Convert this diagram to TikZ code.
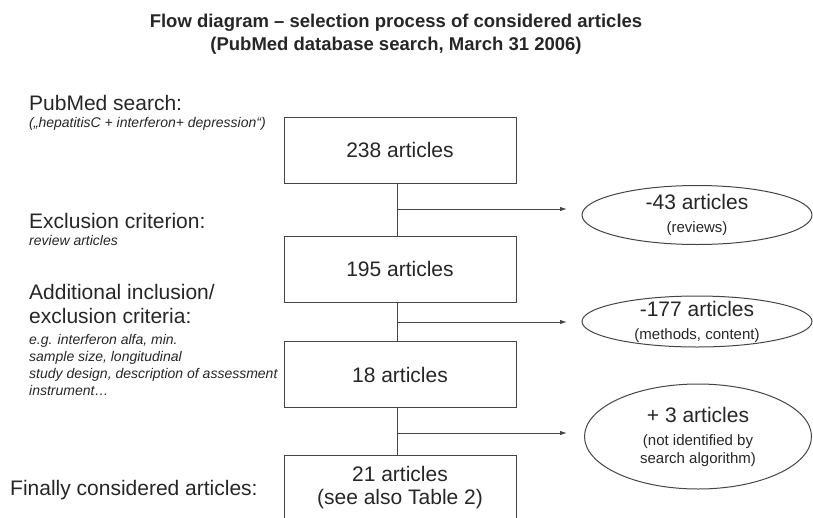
\documentclass[tikz,border=0pt]{standalone}
\usepackage{fontspec}
\setmainfont{Liberation Sans}
\usetikzlibrary{shapes.geometric,arrows.meta}
\definecolor{ink}{HTML}{262626}
\definecolor{rule}{HTML}{454545}
\tikzset{
  heading/.style={font=\fontsize{18.5}{23}\selectfont\bfseries,align=center},
  big/.style={font=\fontsize{21}{24}\selectfont},
  note/.style={font=\fontsize{14}{17}\selectfont\itshape},
  box/.style={draw=rule,line width=1pt,minimum width=232,minimum height=66,
    font=\fontsize{21}{23}\selectfont,align=center},
  oval/.style={ellipse,draw=rule,line width=1pt,inner sep=0pt,inner ysep=-3pt,
    font=\fontsize{21}{23}\selectfont,align=center}
}
\newcommand{\smtext}[1]{{\fontsize{15}{18}\selectfont #1}}
\begin{document}
\begin{tikzpicture}[x=1pt,y=-1pt,text=ink,inner sep=0pt]
      \useasboundingbox (0,0) rectangle (813,517);
      \clip (0,0) rectangle (813,517);
      \node[heading,anchor=base] (head) at (396,50)
        {Flow diagram – selection process of considered articles\\(PubMed database search, March 31 2006)};
      % left column
      \node[big,anchor=base west] (search) at (29,110) {PubMed search:};
      \node[note,anchor=base west] (query) at (29,127) {(„hepatitisC + interferon+ depression“)};
      \node[big,anchor=base west] (excl) at (29,228) {Exclusion criterion:};
      \node[note,anchor=base west] (exclnote) at (29,245) {review articles};
      \node[big,anchor=base west,align=left] (incl) at (29,323) {Additional inclusion/\\exclusion criteria:};
      \node[note,anchor=base west,align=left] (inclnote) at (29,395)
        {e.g. interferon alfa, min.\\sample size, longitudinal\\study design, description of assessment\\instrument…};
      \node[big,anchor=base west] (final) at (10,495) {Finally considered articles:};
      % boxes
      \node[box] (b1) at (400,150) {238 articles};
      \node[box] (b2) at (400,269) {195 articles};
      \node[box] (b3) at (400,374.5) {18 articles};
      \node[box] (b4) at (400,488) {21 articles\\(see also Table 2)};
      % ovals
      \node[oval,minimum width=230,minimum height=59] (e1) at (697,215) {-43 articles\\\smtext{(reviews)}};
      \node[oval,minimum width=230,minimum height=51] (e2) at (697,321.5) {-177 articles\\\smtext{(methods, content)}};
      \node[oval,minimum width=227,minimum height=105] (e3) at (698,436.5)
        {+ 3 articles\\\smtext{(not identified by}\\[-5pt]\smtext{search algorithm)}};
      \coordinate (t1) at (397,209);
      \coordinate (h1) at (567,209);
      \coordinate (t2) at (397,322);
      \coordinate (h2) at (567,322);
      \coordinate (t3) at (397,433);
      \coordinate (h3) at (567,433);
      \begin{scope}[draw=rule,line width=1pt]
        \draw ([xshift=-3]b1.south) to ([xshift=-3]b2.north);
        \draw ([xshift=-3]b2.south) to ([xshift=-3]b3.north);
        \draw ([xshift=-3]b3.south) to ([xshift=-3]b4.north);
        \draw[-{Latex[length=7pt,width=4.5pt]}] (t1) to (h1);
        \draw[-{Latex[length=7pt,width=4.5pt]}] (t2) to (h2);
        \draw[-{Latex[length=7pt,width=4.5pt]}] (t3) to (h3);
      \end{scope}
    \end{tikzpicture}
\end{document}
